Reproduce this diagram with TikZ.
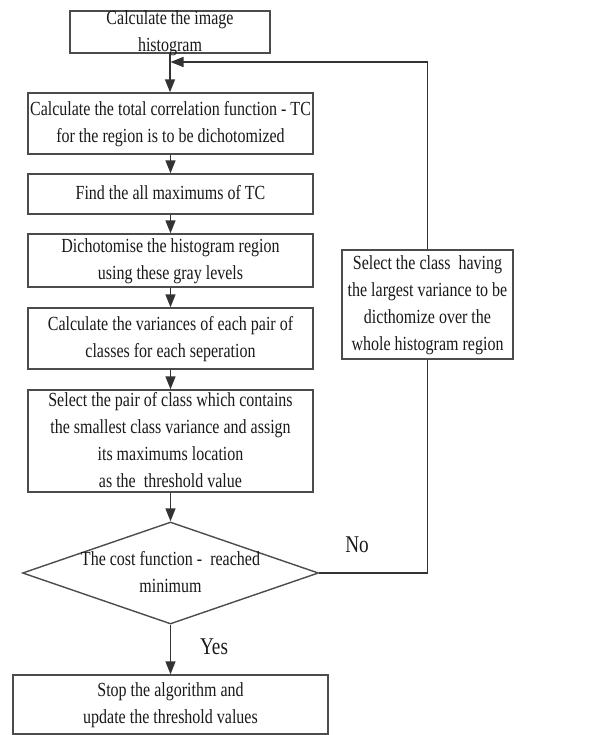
\documentclass[tikz,border=0pt]{standalone}
\usepackage{fontspec}
\setmainfont[FakeStretch=0.8]{Liberation Serif}
\usetikzlibrary{shapes.geometric,arrows.meta}
\newcommand{\tx}[1]{\makebox[0pt]{\smash{\raisebox{-0.28em}{\begin{tabular}{@{}c@{}}#1\end{tabular}}}}}
\begin{document}
\begin{tikzpicture}[x=1pt,y=-1pt,
  box/.style={draw=black!70, line width=1.4pt, inner sep=0pt, text=black!90,
    font=\fontsize{20}{27}\selectfont},
  dec/.style={box, diamond},
  arr/.style={draw=black!80, line width=1.5pt, -{Triangle[length=13pt,width=10pt]}},
  ln/.style={draw=black!80, line width=1.5pt},
  lbl/.style={inner sep=0pt, text=black!90, font=\fontsize{24}{28}\selectfont}]
\useasboundingbox (0,0) rectangle (597,735);
\node[box, minimum width=200pt, minimum height=42pt] (b1) at (170,32) {\tx{Calculate the image\\histogram}};
\node[box, minimum width=285pt, minimum height=61pt] (b2) at (170.5,123.5) {\tx{Calculate the total correlation function - TC\\for the region is to be dichotomized}};
\node[box, minimum width=285pt, minimum height=40pt] (b3) at (170.5,194) {\tx{Find the all maximums of TC}};
\node[box, minimum width=285pt, minimum height=53pt] (b4) at (170.5,260.5) {\tx{Dichotomise the histogram region\\using these gray levels}};
\node[box, minimum width=285pt, minimum height=61pt] (b5) at (170.5,338.5) {\tx{Calculate the variances of each pair of\\classes for each seperation}};
\node[box, minimum width=285pt, minimum height=102pt] (b6) at (170.5,441) {\tx{Select the pair of class which contains\\the smallest class variance and assign\\its maximums location\\as the\ \ threshold value}};
\node[dec, minimum width=296pt, minimum height=102pt] (d) at (170.5,573) {\tx{The cost function -\ \ reached\\minimum}};
\node[box, minimum width=315pt, minimum height=59pt] (fin) at (170.5,704.5) {\tx{Stop the algorithm and\\update the threshold values}};
\node[box, minimum width=171pt, minimum height=109pt] (rb) at (427.5,304.5) {\tx{Select the class\ \ having\\the largest variance to be\\dicthomize over the\\whole histogram region}};
\node[lbl] (no) at (357,545) {No};
\node[lbl] (yes) at (214,647) {Yes};
\coordinate (join) at (170.5,62);
\draw[arr] (b1.south) -- (b1.south |- b2.north);
\draw[arr] (b2) -- (b3);
\draw[arr] (b3) -- (b4);
\draw[arr] (b4) -- (b5);
\draw[arr] (b5) -- (b6);
\draw[arr] (b6) -- (d);
\draw[arr] (d) -- (fin);
\draw[ln] (d.east) -| (rb.south);
\draw[arr] (rb.north) |- (join);
\end{tikzpicture}
\end{document}
